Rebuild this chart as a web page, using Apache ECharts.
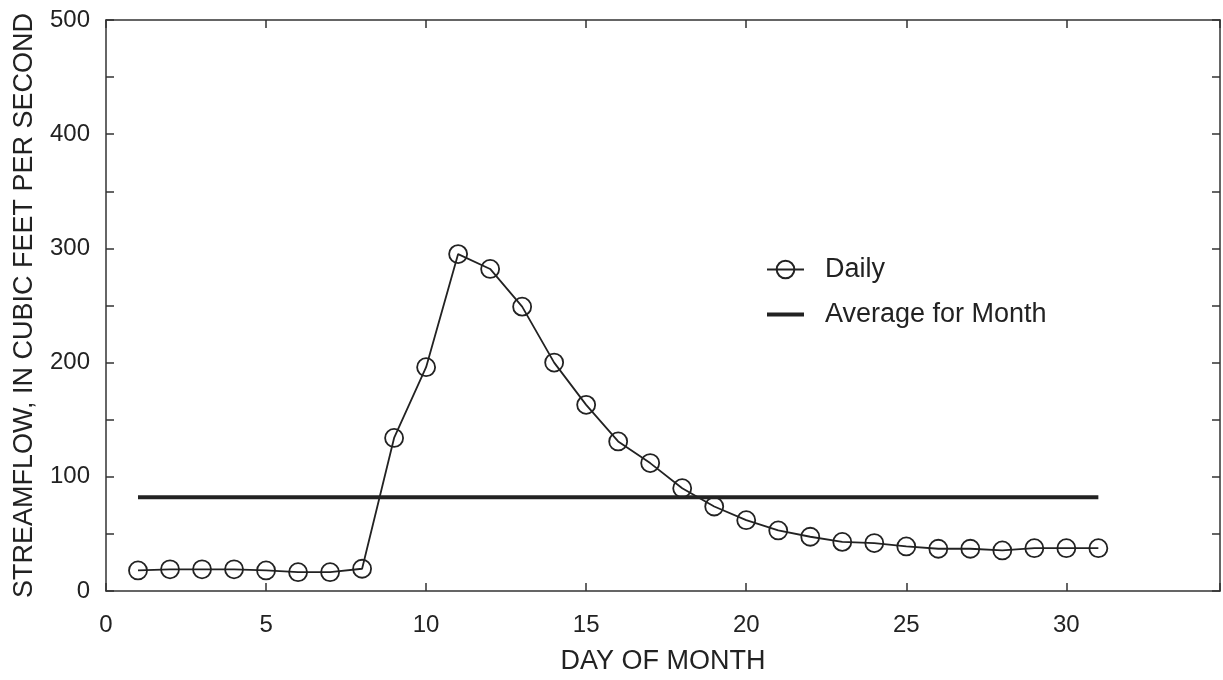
<!DOCTYPE html>
<html>
<head>
<meta charset="utf-8">
<script src="https://cdn.jsdelivr.net/npm/echarts@6/dist/echarts.min.js"></script>
<style>
  html, body { margin: 0; padding: 0; background: #fff; }
  #c1 { width: 1223px; height: 680px; }
</style>
</head>
<body>
<div id="c1"></div>
<script>
// day of month and daily streamflow (cfs)
const days = [1, 2, 3, 4, 5, 6, 7, 8, 9, 10, 11, 12, 13, 14, 15, 16, 17, 18, 19, 20, 21, 22, 23, 24, 25, 26, 27, 28, 29, 30, 31]
const daily = [18, 19, 19, 19, 18, 16.5, 16.5, 19.5, 134, 196, 295, 282, 249, 200, 163, 131, 112, 90, 74, 62, 53, 47.5, 43, 42, 39, 37, 37, 35.5, 37.5, 37.5, 37.5]
// monthly average, drawn from first to last day
const avgDays = [1, 31]
const avgValue = 82

const ink = '#222'
const font = 'Liberation Sans, Arial, Helvetica, sans-serif'
const axisColor = '#333'

const frameAxis = (extra) => Object.assign({
  axisLine: { show: true, onZero: false, lineStyle: { color: axisColor, width: 1.5 } },
  axisTick: { show: true, inside: true, length: 8, lineStyle: { color: axisColor, width: 1.5 } },
  splitLine: { show: false }
}, extra)

const myChart = echarts.init(document.getElementById('c1'))
const option = {
  animation: false,
  textStyle: { fontFamily: font, color: ink },
  grid: { left: 106, right: 3, top: 20, bottom: 86 },
  legend: {
    orient: 'vertical',
    left: 760,
    top: 251,
    itemWidth: 37,
    itemHeight: 22,
    itemGap: 18,
    textStyle: { fontSize: 27, color: ink, fontFamily: font, padding: [0, 0, 0, 16] },
    data: [
      { name: 'Daily', lineStyle: { width: 1.8 } },
      {
        name: 'Average for Month',
        lineStyle: { width: 4 },
        itemStyle: { color: 'rgba(0,0,0,0)', borderColor: 'rgba(0,0,0,0)', borderWidth: 0 }
      }
    ]
  },
  xAxis: [
    frameAxis({
      type: 'value',
      min: 0,
      max: 34.8,
      interval: 5,
      name: 'DAY OF MONTH',
      nameLocation: 'middle',
      nameGap: 57,
      nameTextStyle: { fontSize: 27, color: ink },
      axisLabel: {
        fontSize: 24, color: ink, margin: 22,
        formatter: v => (v % 5 === 0 ? v : '')
      }
    }),
    frameAxis({
      type: 'value',
      position: 'top',
      min: 0,
      max: 34.8,
      interval: 5,
      axisLabel: { show: false }
    })
  ],
  yAxis: [
    frameAxis({
      type: 'value',
      min: 0,
      max: 500,
      interval: 100,
      name: 'STREAMFLOW, IN CUBIC FEET PER SECOND',
      nameLocation: 'middle',
      nameGap: 68,
      nameTextStyle: { fontSize: 27, color: ink },
      minorTick: { show: true, splitNumber: 2, length: 8, lineStyle: { color: axisColor, width: 1.5 } },
      axisLabel: { fontSize: 24, color: ink, margin: 16 }
    }),
    frameAxis({
      type: 'value',
      position: 'right',
      min: 0,
      max: 500,
      interval: 100,
      minorTick: { show: true, splitNumber: 2, length: 8, lineStyle: { color: axisColor, width: 1.5 } },
      axisLabel: { show: false }
    })
  ],
  series: [
    {
      name: 'Average for Month',
      type: 'line',
      symbol: 'none',
      lineStyle: { color: ink, width: 4 },
      itemStyle: { color: ink },
      data: avgDays.map(d => [d, avgValue])
    },
    {
      name: 'Daily',
      type: 'line',
      symbol: 'circle',
      symbolSize: 18,
      lineStyle: { color: ink, width: 1.8 },
      itemStyle: { color: 'rgba(0,0,0,0)', borderColor: ink, borderWidth: 1.8 },
      data: days.map((d, i) => [d, daily[i]])
    }
  ]
}
myChart.setOption(option)
</script>
</body>
</html>
